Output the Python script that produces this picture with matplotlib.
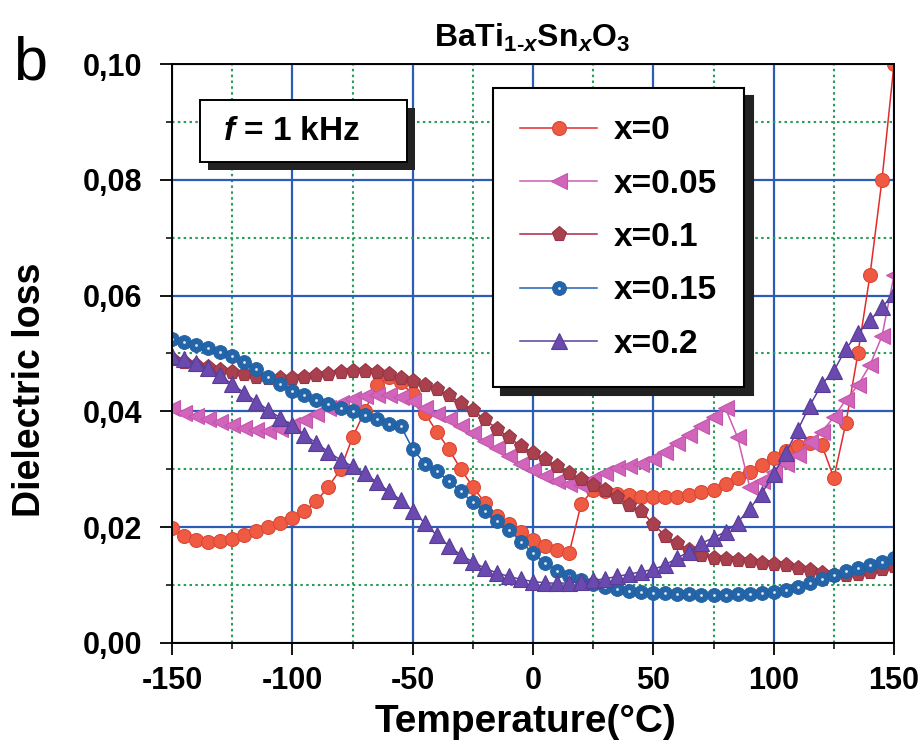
import matplotlib
matplotlib.use('Agg')
import matplotlib.pyplot as plt
from matplotlib.patches import Rectangle
from matplotlib.ticker import MultipleLocator

plt.rcParams['font.family'] = ['Liberation Sans', 'DejaVu Sans']
plt.rcParams['font.weight'] = 'bold'
plt.rcParams['axes.labelweight'] = 'bold'
plt.rcParams['axes.unicode_minus'] = False
plt.rcParams['mathtext.fontset'] = 'custom'
plt.rcParams['mathtext.rm'] = 'Liberation Sans:bold'
plt.rcParams['mathtext.it'] = 'Liberation Sans:italic:bold'
plt.rcParams['mathtext.bf'] = 'Liberation Sans:bold'

# temperature (C), one point every 5 degrees
temperature = [-150, -145, -140, -135, -130, -125, -120, -115, -110, -105,
               -100, -95, -90, -85, -80, -75, -70, -65, -60, -55,
               -50, -45, -40, -35, -30, -25, -20, -15, -10, -5,
               0, 5, 10, 15, 20, 25, 30, 35, 40, 45,
               50, 55, 60, 65, 70, 75, 80, 85, 90, 95,
               100, 105, 110, 115, 120, 125, 130, 135, 140, 145,
               150]

loss_x0 = [0.0198, 0.0185, 0.0178, 0.0175, 0.0176, 0.0180, 0.0186, 0.0193, 0.0200, 0.0208,
           0.0216, 0.0228, 0.0245, 0.0270, 0.0300, 0.0355, 0.0400, 0.0445, 0.0460, 0.0450,
           0.0430, 0.0397, 0.0365, 0.0335, 0.0300, 0.0270, 0.0242, 0.0220, 0.0205, 0.0192,
           0.0178, 0.0168, 0.0160, 0.0155, 0.0240, 0.0265, 0.0262, 0.0258, 0.0255, 0.0253,
           0.0252, 0.0252, 0.0253, 0.0256, 0.0260, 0.0265, 0.0275, 0.0285, 0.0295, 0.0307,
           0.0320, 0.0332, 0.0340, 0.0345, 0.0342, 0.0285, 0.0380, 0.0500, 0.0635, 0.0800,
           0.1000]

loss_x005 = [0.0405, 0.0398, 0.0392, 0.0386, 0.0381, 0.0376, 0.0372, 0.0368, 0.0367, 0.0370,
             0.0376, 0.0385, 0.0395, 0.0405, 0.0415, 0.0422, 0.0426, 0.0428, 0.0428, 0.0424,
             0.0418, 0.0405, 0.0396, 0.0386, 0.0375, 0.0362, 0.0349, 0.0336, 0.0323, 0.0310,
             0.0298, 0.0288, 0.0280, 0.0275, 0.0273, 0.0283, 0.0294, 0.0302, 0.0306, 0.0310,
             0.0318, 0.0330, 0.0345, 0.0360, 0.0375, 0.0390, 0.0405, 0.0355, 0.0270, 0.0280,
             0.0295, 0.0310, 0.0325, 0.0348, 0.0365, 0.0390, 0.0420, 0.0445, 0.0480, 0.0530,
             0.0635]

loss_x01 = [0.0490, 0.0485, 0.0480, 0.0476, 0.0472, 0.0468, 0.0464, 0.0460, 0.0458, 0.0457,
            0.0457, 0.0459, 0.0462, 0.0465, 0.0468, 0.0470, 0.0470, 0.0468, 0.0464, 0.0458,
            0.0452, 0.0445, 0.0438, 0.0428, 0.0415, 0.0402, 0.0386, 0.0370, 0.0355, 0.0340,
            0.0328, 0.0318, 0.0305, 0.0293, 0.0283, 0.0273, 0.0264, 0.0252, 0.0238, 0.0228,
            0.0205, 0.0185, 0.0172, 0.0160, 0.0152, 0.0147, 0.0145, 0.0143, 0.0141, 0.0139,
            0.0137, 0.0134, 0.0130, 0.0126, 0.0121, 0.0117, 0.0117, 0.0119, 0.0123, 0.0128,
            0.0133]

loss_x015 = [0.0525, 0.0520, 0.0515, 0.0510, 0.0503, 0.0495, 0.0485, 0.0473, 0.0460, 0.0448,
             0.0436, 0.0428, 0.0420, 0.0413, 0.0406, 0.0400, 0.0393, 0.0386, 0.0379, 0.0375,
             0.0335, 0.0310, 0.0297, 0.0280, 0.0262, 0.0243, 0.0228, 0.0210, 0.0195, 0.0175,
             0.0155, 0.0138, 0.0125, 0.0115, 0.0108, 0.0102, 0.0097, 0.0093, 0.0090, 0.0088,
             0.0087, 0.0086, 0.0085, 0.0084, 0.0083, 0.0083, 0.0083, 0.0084, 0.0085, 0.0086,
             0.0088, 0.0092, 0.0097, 0.0104, 0.0111, 0.0118, 0.0124, 0.0130, 0.0135, 0.0140,
             0.0147]

loss_x02 = [0.0495, 0.0490, 0.0483, 0.0475, 0.0462, 0.0447, 0.0432, 0.0417, 0.0402, 0.0389,
            0.0376, 0.0360, 0.0345, 0.0330, 0.0316, 0.0305, 0.0293, 0.0278, 0.0262, 0.0247,
            0.0228, 0.0207, 0.0186, 0.0168, 0.0152, 0.0140, 0.0129, 0.0121, 0.0115, 0.0110,
            0.0106, 0.0104, 0.0103, 0.0104, 0.0106, 0.0108, 0.0111, 0.0115, 0.0119, 0.0123,
            0.0127, 0.0135, 0.0147, 0.0158, 0.0172, 0.0182, 0.0192, 0.0208, 0.0232, 0.0258,
            0.0292, 0.0328, 0.0368, 0.0410, 0.0447, 0.0470, 0.0508, 0.0535, 0.0557, 0.0580,
            0.0603]

labels = ['x=0', 'x=0.05', 'x=0.1', 'x=0.15', 'x=0.2']
ytick_vals = [0.00, 0.02, 0.04, 0.06, 0.08, 0.10]
ytick_labels = ['0,00', '0,02', '0,04', '0,06', '0,08', '0,10']
xtick_vals = [-150, -100, -50, 0, 50, 100, 150]

fig = plt.figure(figsize=(9.21, 7.53), dpi=100)
ax = fig.add_axes([0.1868, 0.1461, 0.7839, 0.7689])

ms = 10
l0, = ax.plot(temperature, loss_x0, '-o', color='#e22b2b', lw=1.1, ms=ms,
              mfc='#ee5a42', mec='#dc4634', mew=0.8, label=labels[0])
l1, = ax.plot(temperature, loss_x005, '-<', color='#cc5cb4', lw=1.1, ms=ms + 1,
              mfc='#d065bb', mec='#c455ad', mew=0.8, label=labels[1])
l2, = ax.plot(temperature, loss_x01, '-p', color='#b02844', lw=1.1, ms=ms + 1,
              mfc='#a8404e', mec='#983444', mew=0.8, label=labels[2])
l3, = ax.plot(temperature, loss_x015, '-o', color='#2060b0', lw=1.1, ms=ms,
              mfc='#2464a8', mec='#2060a0', mew=0.6, label=labels[3])
l3h, = ax.plot(temperature, loss_x015, 'o', color='#f4f8ff', ms=2.0, alpha=0.9,
               mew=0, label='_nolegend_')
l4, = ax.plot(temperature, loss_x02, '-^', color='#5a3ea0', lw=1.1, ms=ms + 1,
              mfc='#6a4aae', mec='#583c98', mew=0.8, label=labels[4])

ax.set_xlim(-150, 150)
ax.set_ylim(0, 0.10)
ax.set_xticks(xtick_vals)
ax.set_yticks(ytick_vals, labels=ytick_labels)
ax.xaxis.set_minor_locator(MultipleLocator(25))
ax.yaxis.set_minor_locator(MultipleLocator(0.01))

ax.set_axisbelow(True)
ax.grid(which='major', color='#2d5cb8', lw=1.6, ls='-')
ax.grid(which='minor', color='#2a9d5a', lw=1.5, ls=(0, (1.2, 1.6)))

for sp in ax.spines.values():
    sp.set_linewidth(1.4)
    sp.set_color('black')
ax.tick_params(which='major', direction='out', length=8.5, width=1.3,
               labelsize=22, colors='black')
ax.tick_params(axis='x', which='major', pad=8)
ax.tick_params(axis='y', which='major', pad=13)
ax.tick_params(which='minor', direction='out', length=4.5, width=1.1)

ax.set_xlabel('Temperature(°C)', fontsize=28)
ax.xaxis.label.set_va('center')
ax.xaxis.set_label_coords(0.49, -0.136)
ax.set_ylabel('Dielectric loss', fontsize=27)
ax.yaxis.label.set_va('center')
ax.yaxis.set_label_coords(-0.197, 0.437)

fig.text(532 / 921, 1 - 38 / 753, r'BaTi$_{1\text{-}x}$Sn$_x$O$_3$',
         fontsize=23, ha='center', va='center')
fig.text(30 / 921, 1 - 64 / 753, 'b', fontsize=44, fontweight='normal',
         ha='center', va='center')

# f = 1 kHz box with shadow
ax.add_patch(Rectangle((0.0498, 0.8169), 0.2867, 0.1071, transform=ax.transAxes,
                       facecolor='#222222', edgecolor='none', zorder=6))
ax.add_patch(Rectangle((0.0388, 0.8307), 0.2867, 0.1071, transform=ax.transAxes,
                       facecolor='white', edgecolor='black', lw=1.4, zorder=7))
ax.text(0.166, 0.884, r'$f$ = 1 kHz', transform=ax.transAxes, fontsize=24,
        ha='center', va='center', zorder=8)

leg = ax.legend([l0, l1, l2, (l3, l3h), l4], labels, loc='upper left',
                bbox_to_anchor=(0.4446, 0.9585), borderaxespad=0, fontsize=24,
                frameon=True, fancybox=False, framealpha=1, edgecolor='black',
                handlelength=2.3, handletextpad=0.5, borderpad=0.82,
                labelspacing=0.67,
                shadow={'ox': 6, 'oy': -6, 'color': '#222222', 'alpha': 1})
leg.get_frame().set_linewidth(1.5)
leg.set_zorder(9)

fig.savefig('out.png', dpi=100)
